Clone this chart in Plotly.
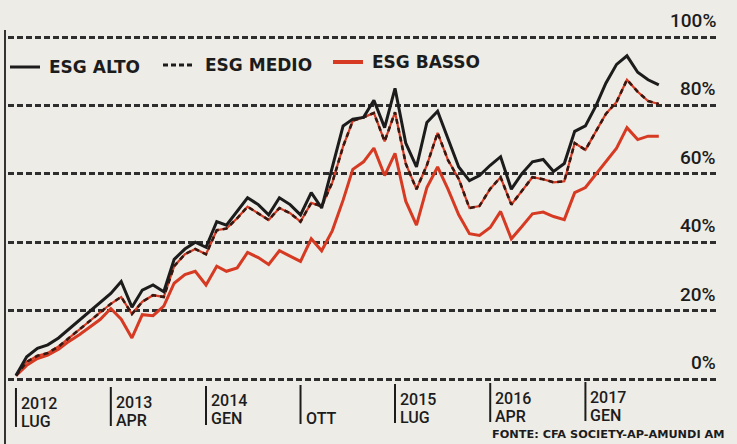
import plotly.graph_objects as go
import pandas as pd

# ---------------- data ----------------
months = pd.date_range("2012-07-01", periods=62, freq="MS")

esg_alto = [1, 6.5, 9, 10, 12, 14.6, 17.1, 19.8, 22.3, 25,
            28.5, 21, 26, 27.5, 25.5, 35, 38, 40, 38.5, 46,
            45, 49, 53, 51, 48, 53, 51, 48, 54.5, 50,
            62, 74, 76, 76.5, 81.5, 73.5, 85, 69, 62, 75,
            78.3, 70, 62, 58, 59.5, 62.5, 65, 55.5, 60, 63.5,
            64.2, 60.7, 63, 72.4, 74, 80, 86.5, 92, 94.5, 89.7,
            87.5, 86]

esg_medio = [1, 5, 6.8, 7.6, 9.5, 12, 14.5, 17, 19.4, 22,
             24, 19, 22.6, 24.5, 24, 33, 36.5, 38, 36.5, 43.5,
             44, 47, 50.4, 48.5, 46.5, 50, 48.5, 46, 51.5, 50.5,
             57.5, 68, 75.5, 76.5, 77.8, 69.5, 78, 63, 55.5, 62.5,
             72, 64, 58.5, 50, 50.6, 55.6, 59, 51, 55, 59,
             58.4, 57.5, 57.8, 69, 67, 72.5, 77.5, 81, 87.5, 84,
             81.3, 80.4]

esg_basso = [1, 4, 6, 7, 8.7, 11, 13, 15.3, 17.4, 20.6,
             17.5, 12, 18.8, 18.5, 21.3, 28, 30.5, 31.5, 27.5, 33,
             31.5, 32.5, 37, 35.5, 33.5, 37.5, 36, 34.4, 41, 37.5,
             43.4, 52.3, 61.3, 63.5, 67.5, 59.5, 66, 52, 45, 56,
             62, 55.5, 48, 42.5, 42, 44.3, 49, 41, 44.5, 48.3,
             48.8, 47.5, 46.6, 54.5, 56, 60, 63.5, 67.5, 73.5, 70,
             71, 71]

series_names = ["ESG ALTO", "ESG MEDIO", "ESG BASSO"]

tick_dates = ["2012-07-01", "2013-04-01", "2014-01-01", "2014-10-01",
              "2015-07-01", "2016-04-01", "2017-01-01"]
tick_years = ["2012", "2013", "2014", "", "2015", "2016", "2017"]
tick_months = ["LUG", "APR", "GEN", "OTT", "LUG", "APR", "GEN"]

y_ticks = [0, 20, 40, 60, 80, 100]
y_labels = ["0%", "20%", "40%", "60%", "80%", "100%"]

source_text = "FONTE: CFA SOCIETY-AP-AMUNDI AM"

# ---------------- style ----------------
BLACK = "#1c1c1c"
RED = "#d63a22"
BG = "#eeece6"
W, H = 737, 444
ML, MR, MT, MB = 8, 19, 10, 52
PW, PH = W - ML - MR, H - MT - MB
X_START, X_END = "2012-06-08", "2018-01-19"


def px_x(p):
    return (p - ML) / PW


def px_y(p):
    return (H - MB - p) / PH


def date_px(d):
    t0, t1 = pd.Timestamp(X_START), pd.Timestamp(X_END)
    return ML + PW * (pd.Timestamp(d) - t0) / (t1 - t0)


fig = go.Figure()

fig.add_trace(go.Scatter(x=months, y=esg_basso, mode="lines", name=series_names[2],
                         line=dict(color=RED, width=3), showlegend=False))
fig.add_trace(go.Scatter(x=months, y=esg_medio, mode="lines", name=series_names[1] + " ",
                         line=dict(color=RED, width=2.2), showlegend=False, hoverinfo="skip"))
fig.add_trace(go.Scatter(x=months, y=esg_medio, mode="lines", name=series_names[1],
                         line=dict(color="#3a1810", width=2.6, dash="5px,4px"), showlegend=False))
fig.add_trace(go.Scatter(x=months, y=esg_alto, mode="lines", name=series_names[0],
                         line=dict(color=BLACK, width=3), showlegend=False))

shapes = []
annotations = []

# x ticks (vertical bars) and two-line labels; slight tilt like the scanned page
TILT = 6.0 / 570.0
for d, yr, mo in zip(tick_dates, tick_years, tick_months):
    dy = -TILT * (date_px(d) - 16)
    shapes.append(dict(type="line", xref="x", yref="paper", x0=d, x1=d,
                       y0=px_y(388 + dy), y1=px_y(427 + dy), line=dict(color=BLACK, width=2)))
    if yr:
        annotations.append(dict(x=d, xref="x", y=px_y(403 + dy), yref="paper", text=yr,
                                xanchor="left", yanchor="middle", xshift=3, showarrow=False,
                                font=dict(family="Roboto", size=16, color=BLACK, weight=500)))
    annotations.append(dict(x=d, xref="x", y=px_y(421 + dy), yref="paper", text=mo,
                            xanchor="left", yanchor="middle", xshift=3, showarrow=False,
                            font=dict(family="Roboto", size=16, color=BLACK, weight=500)))

# y labels (above gridlines, right side)
for v, lab in zip(y_ticks, y_labels):
    annotations.append(dict(x=px_x(718), xref="paper", y=v, yref="y", text=lab,
                            xanchor="right", yanchor="bottom", yshift=3, showarrow=False,
                            font=dict(family="Roboto", size=19, color=BLACK, weight=500)))

# custom legend
leg = [
    (series_names[0], 10, 40, 47, 67, dict(color=BLACK, width=3)),
    (series_names[1], 163, 195, 203, 65, dict(color=BLACK, width=3, dash="5px,3px")),
    (series_names[2], 333, 363, 370, 62, dict(color=RED, width=4)),
]
for name, sx0, sx1, tx, cy, ln in leg:
    shapes.append(dict(type="line", xref="paper", yref="paper",
                       x0=px_x(sx0), x1=px_x(sx1), y0=px_y(cy), y1=px_y(cy), line=ln))
    annotations.append(dict(x=px_x(tx), xref="paper", y=px_y(cy), yref="paper", text=name,
                            xanchor="left", yanchor="middle", showarrow=False,
                            font=dict(family="DejaVu Sans", size=17, color=BLACK, weight="bold")))

# left frame line
shapes.append(dict(type="line", xref="paper", yref="paper", x0=px_x(5), x1=px_x(5),
                   y0=px_y(30), y1=px_y(444), line=dict(color="#333333", width=2)))

# source
annotations.append(dict(x=px_x(727), xref="paper", y=px_y(435), yref="paper", text=source_text,
                        xanchor="right", yanchor="middle", showarrow=False,
                        font=dict(family="DejaVu Sans", size=11.3, color=BLACK, weight="bold")))

fig.update_layout(
    width=W, height=H,
    margin=dict(l=ML, r=MR, t=MT, b=MB),
    paper_bgcolor=BG, plot_bgcolor=BG,
    showlegend=False,
    shapes=shapes, annotations=annotations,
    xaxis=dict(type="date", range=[X_START, X_END], showgrid=False,
               showticklabels=False, ticks="", zeroline=False, showline=False, fixedrange=True),
    yaxis=dict(range=[-3.8, 107.9], tickvals=y_ticks, showticklabels=False, ticks="",
               showgrid=True, gridcolor="#2e2e2e", gridwidth=2.5, griddash="6px,3px",
               zeroline=False, showline=False, fixedrange=True),
)

fig.write_html(
    "out.html",
    config={"displayModeBar": False},
    post_script="document.body.style.margin='0';document.body.style.background='" + BG + "';",
)
